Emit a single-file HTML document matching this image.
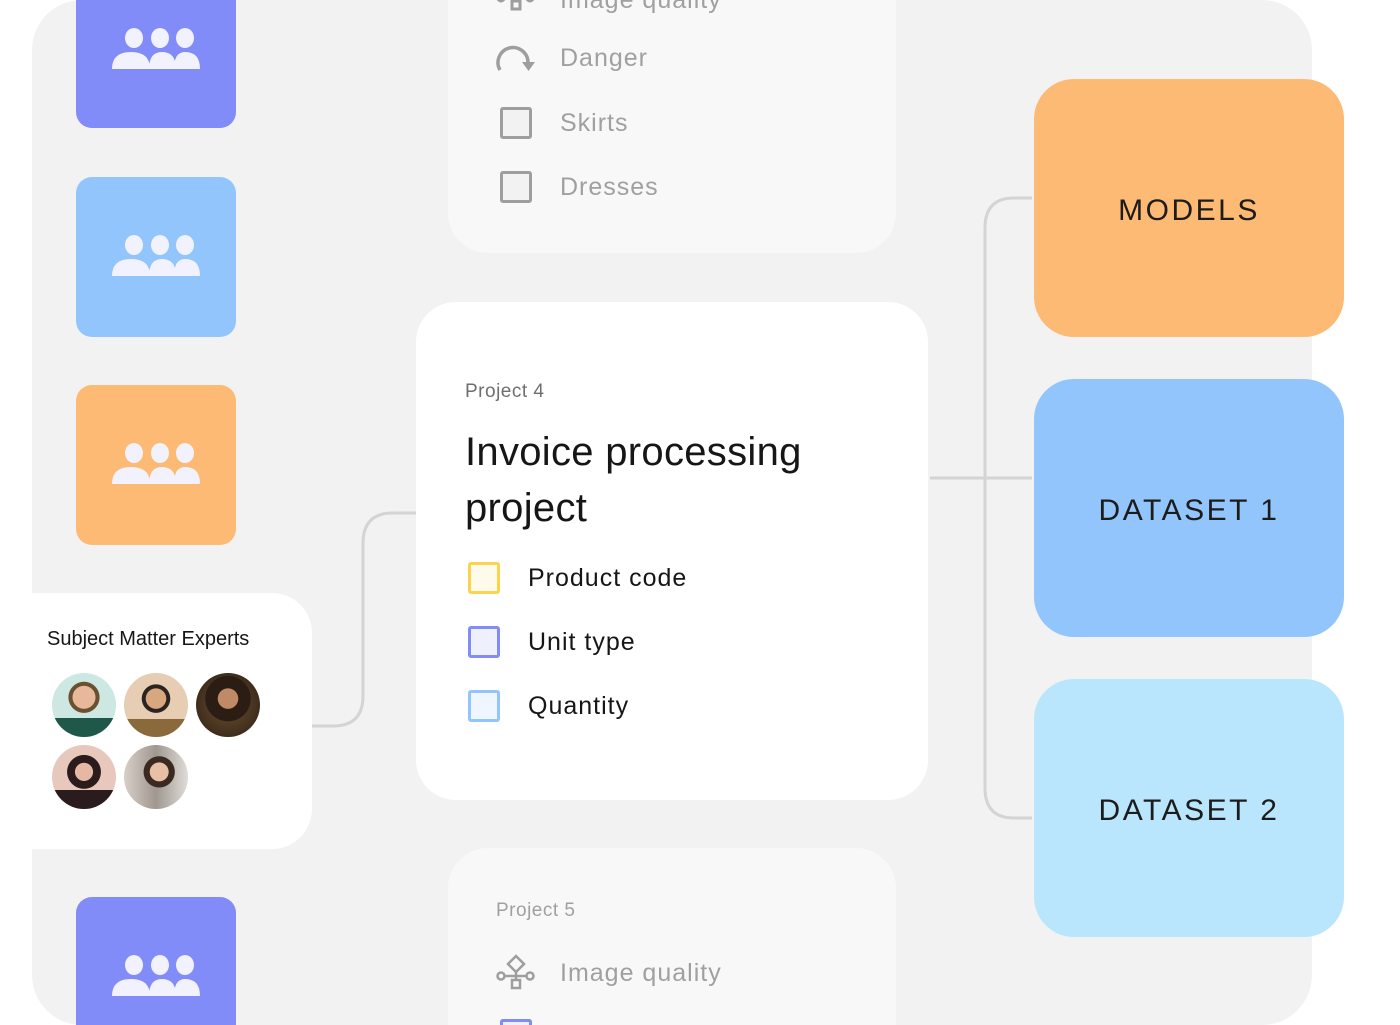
<!DOCTYPE html>
<html style="overflow:hidden;width:1400px;height:1025px"><head><meta charset="utf-8"><style>
*{margin:0;padding:0;box-sizing:border-box}
body{width:1400px;height:1025px;background:#fff;position:relative;overflow:hidden;font-family:"Liberation Sans",sans-serif}
#w{position:absolute;left:0;top:0;width:1400px;height:1025px;overflow:hidden}
.a{position:absolute}
.bg{left:32px;top:0;width:1280px;height:1025px;background:#f2f2f2;border-radius:50px}
.tile{position:absolute;left:76px;width:160px;border-radius:16px}
.tile svg{position:absolute;left:36px}
.box{position:absolute;left:1034px;width:310px;height:258px;border-radius:40px;display:flex;align-items:center;justify-content:center;font-size:30px;letter-spacing:2.5px;color:#1c1c1c;padding-top:6px}
.card{position:absolute;border-radius:40px}
.row{position:absolute;display:flex;align-items:center}
.row svg{flex-shrink:0}
.cb{width:32px;height:32px;border:3px solid;border-radius:3px;flex-shrink:0}
.av{position:absolute;width:64px;height:64px;border-radius:50%}
</style></head><body><div id="w">
<div class="a bg"></div>

<svg class="a" style="left:0;top:0" width="1400" height="1025">
 <g fill="none" stroke="#d4d4d4" stroke-width="3">
  <path d="M312 726 H333 Q363 726 363 696 V543 Q363 513 393 513 H416"/>
  <path d="M1032 198 H1014 Q985 198 985 228 V788 Q985 818 1014 818 H1032"/>
  <path d="M930 478 H1032"/>
 </g>
</svg>

<svg width="0" height="0" style="position:absolute"><defs><g id="ppl" fill="#f1f2fd">
<ellipse cx="22" cy="10" rx="9" ry="10"/><ellipse cx="48" cy="10" rx="9" ry="10"/><ellipse cx="73" cy="10" rx="9" ry="10"/>
<path d="M62 41 Q62 24 73 24 Q88 24 88 41Z"/><path d="M37 41 Q37 24 50 24 Q64 24 64 41Z"/><path d="M0 41 Q0 24 19 24 Q38 24 38 41Z"/></g></defs></svg>

<div class="tile" style="top:0;height:128px;border-radius:0 0 16px 16px;background:#818cf8"><svg width="88" height="42" style="top:28px"><use href="#ppl"/></svg></div>
<div class="tile" style="top:177px;height:160px;background:#93c5fd"><svg width="88" height="42" style="top:58px"><use href="#ppl"/></svg></div>
<div class="tile" style="top:385px;height:160px;background:#fdba74"><svg width="88" height="42" style="top:58px"><use href="#ppl"/></svg></div>
<div class="tile" style="top:897px;height:128px;border-radius:16px 16px 0 0;background:#818cf8"><svg width="88" height="42" style="top:58px"><use href="#ppl"/></svg></div>

<div class="card" style="left:32px;top:593px;width:280px;height:256px;background:#fff;border-radius:0 40px 40px 0"></div>
<div class="a" style="left:47px;top:628px;font-size:20px;color:#161616">Subject Matter Experts</div>
<div class="av" style="left:52px;top:673px;background:radial-gradient(circle at 50% 38%,#e8b89a 0 22%,#6b5030 23% 30%,transparent 31%),linear-gradient(#cde8e2 0 70%,#1f5748 70%)"></div>
<div class="av" style="left:124px;top:673px;background:radial-gradient(circle at 50% 40%,#d9a77f 0 20%,#2a2320 21% 28%,transparent 29%),linear-gradient(#e8cdb5 0 72%,#8a6a3a 72%)"></div>
<div class="av" style="left:196px;top:673px;background:radial-gradient(circle at 50% 40%,#c08a66 0 20%,#2b1c14 21% 45%,transparent 46%),radial-gradient(circle,#6e5030,#2a1e14)"></div>
<div class="av" style="left:52px;top:745px;background:radial-gradient(circle at 50% 42%,#e6b8a4 0 18%,#2a1c1c 19% 34%,transparent 35%),linear-gradient(#e8c7bc 0 70%,#2a1c1c 70%)"></div>
<div class="av" style="left:124px;top:745px;background:radial-gradient(circle at 55% 42%,#e8c0a6 0 18%,#3a2a22 19% 30%,transparent 31%),linear-gradient(90deg,#d8d0c8,#a09890 50%,#e0dcd8)"></div>

<div class="card" style="left:448px;top:0;width:448px;height:253px;background:#f8f8f8;border-radius:0 0 40px 40px"></div>
<div class="a" style="left:560px;top:-14px;font-size:25px;color:#a0a0a0;letter-spacing:1px">Image quality</div>
<svg class="a" style="left:496px;top:0" width="40" height="12"><g fill="none" stroke="#9e9e9e" stroke-width="3"><rect x="16" y="1" width="8" height="8"/><circle cx="5" cy="-2" r="3"/><circle cx="34" cy="-2" r="3"/></g></svg>
<svg class="a" style="left:494px;top:38px" width="44" height="40"><path d="M6 32 A15 15 0 1 1 34 24" fill="none" stroke="#9e9e9e" stroke-width="3.5"/><path d="M28 24 L41 24 L34.5 33Z" fill="#9e9e9e"/></svg>
<div class="a" style="left:560px;top:44px;font-size:25px;color:#a0a0a0;letter-spacing:1px">Danger</div>
<div class="row" style="left:500px;top:107px;font-size:25px;color:#a0a0a0;letter-spacing:1px"><div class="cb" style="border-color:#9e9e9e;background:#f2f2f2"></div><span style="margin-left:28px">Skirts</span></div>
<div class="row" style="left:500px;top:171px;font-size:25px;color:#a0a0a0;letter-spacing:1px"><div class="cb" style="border-color:#9e9e9e;background:#f2f2f2"></div><span style="margin-left:28px">Dresses</span></div>

<div class="card" style="left:416px;top:302px;width:512px;height:498px;background:#fff"></div>
<div class="a" style="left:465px;top:381px;font-size:19px;color:#6f6f6f;letter-spacing:0.5px">Project 4</div>
<div class="a" style="left:465px;top:424px;font-size:40px;line-height:56px;color:#161616;letter-spacing:0.3px">Invoice processing<br>project</div>
<div class="row" style="left:468px;top:562px;font-size:25px;color:#161616;letter-spacing:1px"><div class="cb" style="border-color:#fcd34d;background:#fffbeb"></div><span style="margin-left:28px">Product code</span></div>
<div class="row" style="left:468px;top:626px;font-size:25px;color:#161616;letter-spacing:1px"><div class="cb" style="border-color:#818cf8;background:#eef0fe"></div><span style="margin-left:28px">Unit type</span></div>
<div class="row" style="left:468px;top:690px;font-size:25px;color:#161616;letter-spacing:1px"><div class="cb" style="border-color:#93c5fd;background:#eff6ff"></div><span style="margin-left:28px">Quantity</span></div>

<div class="card" style="left:448px;top:848px;width:448px;height:177px;background:#f8f8f8;border-radius:40px 40px 0 0"></div>
<div class="a" style="left:496px;top:900px;font-size:19px;color:#a0a0a0;letter-spacing:0.5px">Project 5</div>
<div class="row" style="left:496px;top:954px;font-size:25px;color:#a0a0a0;letter-spacing:1px">
 <svg width="40" height="38"><g fill="none" stroke="#9e9e9e" stroke-width="2.5"><path d="M20 2 L28 10 L20 18 L12 10Z"/><circle cx="5" cy="22" r="3.5"/><circle cx="34" cy="22" r="3.5"/><rect x="16" y="26" width="8" height="8"/><path d="M20 18 V26 M9 22 H31"/></g></svg><span style="margin-left:24px">Image quality</span></div>
<div class="a" style="left:500px;top:1019px;width:32px;height:6px;border:3px solid #818cf8;border-bottom:0;border-radius:3px 3px 0 0;background:#eef0fe"></div>

<div class="box" style="top:79px;background:#fdba74">MODELS</div>
<div class="box" style="top:379px;background:#93c5fd">DATASET 1</div>
<div class="box" style="top:679px;background:#bae6fd">DATASET 2</div>
</div></body></html>
